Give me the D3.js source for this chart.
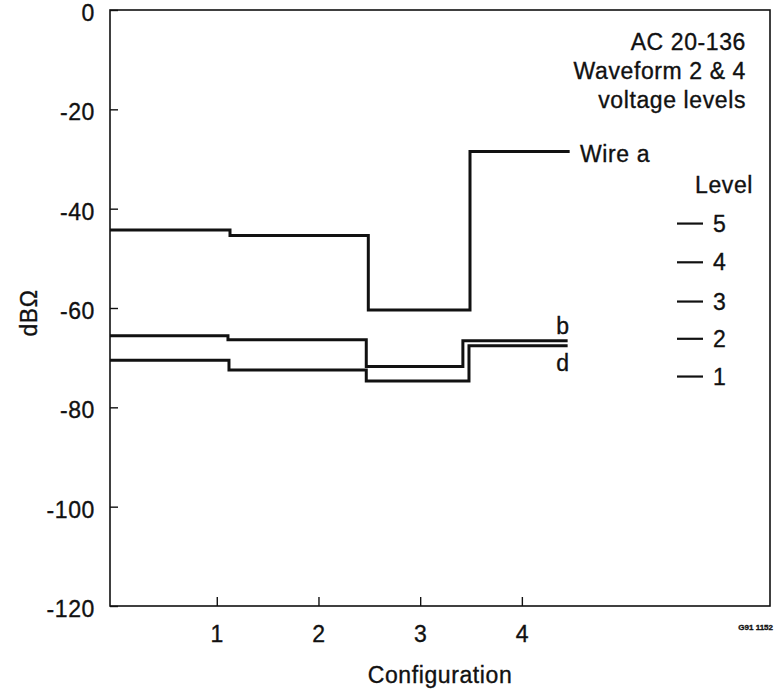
<!DOCTYPE html>
<html>
<head>
<meta charset="utf-8">
<script src="https://cdn.jsdelivr.net/npm/d3@7"></script>
<style>
  body { margin: 0; background: #fff; }
  text {
    font-family: 'Liberation Sans', Arial, sans-serif;
    fill: #111;
    stroke: #111;
    stroke-width: 0.35px;
    letter-spacing: 0.6px;
  }
</style>
</head>
<body>
<div id="chart"></div>
<script>
// step breakpoints (configuration) and level of each step (dBΩ)
const wireA_x = [-0.05, 1.13, 2.49, 3.49, 4.47]
const wireA_y = [-44.3, -45.4, -60.4, -28.5]
const wireB_x = [-0.05, 1.11, 2.47, 3.42, 4.45]
const wireB_y = [-65.6, -66.4, -71.8, -66.6]
const wireD_x = [-0.05, 1.12, 2.47, 3.48, 4.45]
const wireD_y = [-70.5, -72.5, -74.7, -67.6]

const xTicks = [1, 2, 3, 4]
const yTicks = [0, -20, -40, -60, -80, -100, -120]
const levels = [5, 4, 3, 2, 1]
const levelAt = [-43, -50.8, -58.7, -66.2, -73.8]
const titleLines = ['AC 20-136', 'Waveform 2 & 4', 'voltage levels']

const width = 780
const height = 696
const fs = 23

const svg = d3
  .select('#chart')
  .append('svg')
  .attr('width', width)
  .attr('height', height)

const x = d3.scaleLinear().domain([-0.05, 6.44]).range([110, 770])
const y = d3.scaleLinear().domain([-120, 0]).range([606, 10])

// frame
svg
  .append('rect')
  .attr('x', x.range()[0])
  .attr('y', y.range()[1])
  .attr('width', x.range()[1] - x.range()[0])
  .attr('height', y.range()[0] - y.range()[1])
  .attr('fill', 'none')
  .attr('stroke', '#111')
  .attr('stroke-width', 1.6)

const yAxis = d3
  .axisLeft(y)
  .tickValues(yTicks)
  .tickSize(-8)
  .tickPadding(15)
  .tickFormat(d => String(d))

svg
  .append('g')
  .attr('transform', 'translate(' + x.range()[0] + ',0)')
  .call(yAxis)
  .call(g => g.select('.domain').remove())
  .call(g => g.selectAll('line').attr('stroke', '#111').attr('stroke-width', 1.4))
  .call(g => g.selectAll('text').attr('font-size', fs).attr('font-family', null).attr('dy', '0.45em'))

const xAxis = d3
  .axisBottom(x)
  .tickValues(xTicks)
  .tickSize(-9)
  .tickPadding(20)
  .tickFormat(d => String(d))

svg
  .append('g')
  .attr('transform', 'translate(0,' + y.range()[0] + ')')
  .call(xAxis)
  .call(g => g.select('.domain').remove())
  .call(g => g.selectAll('line').attr('stroke', '#111').attr('stroke-width', 1.4))
  .call(g => g.selectAll('text').attr('font-size', fs).attr('font-family', null))

// axis titles
svg
  .append('text')
  .attr('x', 440)
  .attr('y', 683)
  .attr('text-anchor', 'middle')
  .attr('font-size', fs)
  .text('Configuration')

svg
  .append('text')
  .attr('transform', 'translate(37,313) rotate(-90)')
  .attr('text-anchor', 'middle')
  .attr('font-size', fs)
  .text('dBΩ')

// wires as step lines
function stepPoints(xs, ys) {
  return xs.map((d, i) => [d, ys[Math.min(i, ys.length - 1)]])
}

const line = d3
  .line()
  .x(d => x(d[0]))
  .y(d => y(d[1]))
  .curve(d3.curveStepAfter)

const wires = [
  { name: 'a', pts: stepPoints(wireA_x, wireA_y) },
  { name: 'b', pts: stepPoints(wireB_x, wireB_y) },
  { name: 'd', pts: stepPoints(wireD_x, wireD_y) }
]

svg
  .selectAll('.wire')
  .data(wires)
  .enter()
  .append('path')
  .attr('class', 'wire')
  .attr('d', d => line(d.pts))
  .attr('fill', 'none')
  .attr('stroke', '#111')
  .attr('stroke-width', 3)
  .attr('stroke-linejoin', 'miter')

// wire labels
svg
  .append('text')
  .attr('x', 580)
  .attr('y', y(wireA_y[3]) + 10)
  .attr('font-size', fs)
  .text('Wire a')

svg
  .append('text')
  .attr('x', 563)
  .attr('y', y(wireB_y[3]) - 7)
  .attr('text-anchor', 'middle')
  .attr('font-size', fs)
  .text('b')

svg
  .append('text')
  .attr('x', 563)
  .attr('y', y(wireD_y[3]) + 25)
  .attr('text-anchor', 'middle')
  .attr('font-size', fs)
  .text('d')

// title block
svg
  .selectAll('.title')
  .data(titleLines)
  .enter()
  .append('text')
  .attr('class', 'title')
  .attr('x', 746)
  .attr('y', (d, i) => 50 + i * 29)
  .attr('text-anchor', 'end')
  .attr('font-size', fs)
  .text(d => d)

// level legend
svg
  .append('text')
  .attr('x', 753)
  .attr('y', 193)
  .attr('text-anchor', 'end')
  .attr('font-size', fs)
  .text('Level')

const lvl = svg
  .selectAll('.level')
  .data(levels)
  .enter()
  .append('g')
  .attr('class', 'level')
  .attr('transform', (d, i) => 'translate(0,' + y(levelAt[i]) + ')')

lvl
  .append('line')
  .attr('x1', 677)
  .attr('x2', 703)
  .attr('stroke', '#111')
  .attr('stroke-width', 2.2)

lvl
  .append('text')
  .attr('x', 713)
  .attr('y', 8)
  .attr('font-size', fs)
  .text(d => d)

// figure id
svg
  .append('text')
  .attr('x', 773)
  .attr('y', 630)
  .attr('text-anchor', 'end')
  .attr('font-size', 8)
  .attr('font-weight', 'bold')
  .style('letter-spacing', '0px')
  .text('G91 1152')
</script>
</body>
</html>
